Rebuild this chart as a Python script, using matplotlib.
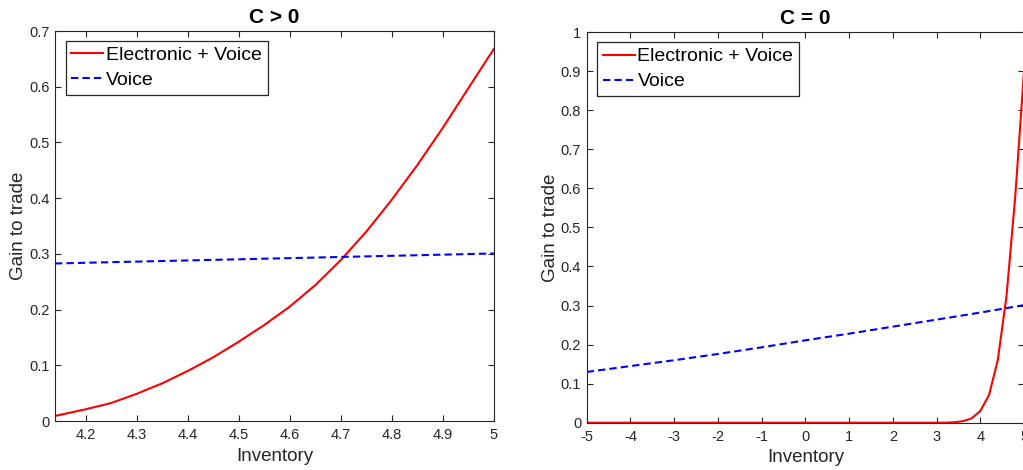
import numpy as np
import matplotlib
matplotlib.use('Agg')
import matplotlib.pyplot as plt
from matplotlib.ticker import FormatStrFormatter, MultipleLocator

plt.rcParams['font.family'] = ['Liberation Sans', 'DejaVu Sans']

# C > 0 case
inv_pos = [4.14, 4.2, 4.25, 4.3, 4.35, 4.4, 4.45, 4.5, 4.55, 4.6,
           4.65, 4.7, 4.75, 4.8, 4.85, 4.9, 4.95, 5.0]
ev_pos = [0.0093, 0.0212, 0.0325, 0.0490, 0.0678, 0.0900, 0.1145, 0.1425, 0.1725, 0.2055,
          0.2440, 0.2890, 0.3400, 0.3975, 0.4595, 0.5265, 0.5975, 0.6680]
inv_voice_pos = [4.14, 5.0]
voice_pos = [0.2829, 0.3008]

# C = 0 case
inv_zero = np.linspace(-5, 5, 51)
ev_zero = [0.0] * 42 + [0.001, 0.004, 0.011, 0.030, 0.071, 0.160, 0.325, 0.580, 0.900]
inv_voice = [-5, -4, -3, -2, -1, 0, 1, 2, 3, 4, 5]
voice_zero = [0.130, 0.145, 0.160, 0.176, 0.193, 0.211, 0.228, 0.246, 0.264, 0.282, 0.301]

RED = '#ff0000'
BLUE = '#0000ff'
AX_COL = '#262626'


def style_axes(ax):
    for s in ax.spines.values():
        s.set_color(AX_COL)
        s.set_linewidth(0.8)
    ax.tick_params(direction='in', length=4, width=0.8, color=AX_COL,
                   labelcolor=AX_COL, labelsize=10.5, top=True, right=True, pad=4)
    ax.tick_params(axis='x', pad=5)
    ax.set_xlabel('Inventory', fontsize=13.5, color=AX_COL, labelpad=4)
    ax.set_ylabel('Gain to trade', fontsize=13.5, color=AX_COL, labelpad=1.5)
    ax.yaxis.set_major_formatter(FormatStrFormatter('%g'))
    ax.xaxis.set_major_formatter(FormatStrFormatter('%g'))


def add_legend(ax):
    leg = ax.legend(loc='upper left', bbox_to_anchor=(0.024, 0.975), borderaxespad=0,
                    fontsize=14, fancybox=False, framealpha=1, edgecolor=AX_COL,
                    handlelength=1.65, handletextpad=0.12, labelspacing=0.38,
                    borderpad=0.3)
    leg.get_frame().set_linewidth(0.9)


fig = plt.figure(figsize=(10.23, 4.70), dpi=100)
ax1 = fig.add_axes([0.0538, 0.104, 0.429, 0.830])
ax2 = fig.add_axes([0.5735, 0.1006, 0.4275, 0.831])

ax1.plot(inv_pos, ev_pos, color=RED, lw=1.5, label='Electronic + Voice')
ax1.plot(inv_voice_pos, voice_pos, color=BLUE, lw=1.5, dashes=(3.5, 2), label='Voice')
ax1.set_xlim(4.14, 5)
ax1.set_ylim(0, 0.7)
ax1.xaxis.set_major_locator(MultipleLocator(0.1))
ax1.yaxis.set_major_locator(MultipleLocator(0.1))
ax1.set_title('C > 0', fontsize=15, fontweight='bold', pad=6)
style_axes(ax1)
add_legend(ax1)

ax2.plot(inv_zero, ev_zero, color=RED, lw=1.5, label='Electronic + Voice')
ax2.plot(inv_voice, voice_zero, color=BLUE, lw=1.5, dashes=(3.5, 2), label='Voice')
ax2.set_xlim(-5, 5)
ax2.set_ylim(0, 1)
ax2.xaxis.set_major_locator(MultipleLocator(1))
ax2.yaxis.set_major_locator(MultipleLocator(0.1))
ax2.set_title('C = 0', fontsize=15, fontweight='bold', pad=6)
style_axes(ax2)
add_legend(ax2)

fig.savefig('out.png', dpi=100)
